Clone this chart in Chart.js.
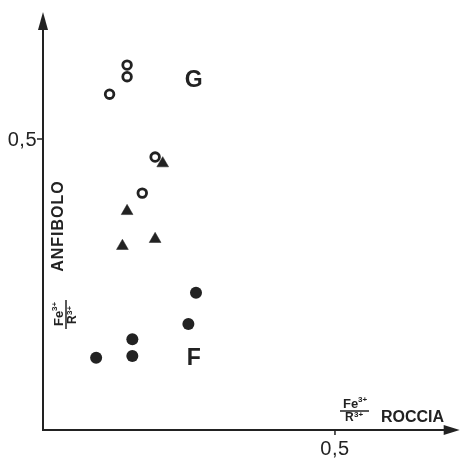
<!DOCTYPE html>
<html>
<head>
<meta charset="utf-8">
<script src="https://cdn.jsdelivr.net/npm/chart.js@4.4.1/dist/chart.umd.min.js"></script>
<style>
html,body{margin:0;padding:0;background:#fff;}
#wrap{width:467px;height:458px;position:relative;}
</style>
</head>
<body>
<div id="wrap"><canvas id="c" width="467" height="458"></canvas></div>
<script>
// Data (x = Fe3+/R3+ roccia, y = Fe3+/R3+ anfibolo)
const openX = [0.114, 0.144, 0.144, 0.192, 0.170];
const openY = [0.577, 0.627, 0.607, 0.469, 0.407];
const triX = [0.205, 0.144, 0.136, 0.192];
const triY = [0.458, 0.376, 0.316, 0.328];
const fillX = [0.091, 0.153, 0.153, 0.249, 0.262];
const fillY = [0.124, 0.156, 0.127, 0.182, 0.236];
const xTickValues = [0.5];
const xTickLabels = ['0,5'];
const yTickValues = [0.5];
const yTickLabels = ['0,5'];
const groupLabels = ['G', 'F'];
const groupPos = [[0.258, 0.602], [0.258, 0.125]];

const ink = '#222';
function pts(xs, ys){ return xs.map((x,i)=>({x:x, y:ys[i]})); }

const drawAxes = {
  id: 'drawAxes',
  beforeDatasetsDraw(chart){
    const ctx = chart.ctx;
    const xs = chart.scales.x, ys = chart.scales.y;
    const x0 = xs.getPixelForValue(0), y0 = ys.getPixelForValue(0);
    const top = chart.chartArea.top, right = chart.chartArea.right;
    ctx.save();
    ctx.strokeStyle = ink; ctx.fillStyle = ink; ctx.lineWidth = 2;
    ctx.beginPath();
    ctx.moveTo(x0, y0 + 1); ctx.lineTo(x0, top + 14);
    ctx.moveTo(x0 - 1, y0); ctx.lineTo(right - 12, y0);
    ctx.stroke();
    // arrowheads
    ctx.beginPath();
    ctx.moveTo(x0, top); ctx.lineTo(x0 - 5, top + 18); ctx.lineTo(x0 + 5, top + 18); ctx.closePath(); ctx.fill();
    ctx.beginPath();
    ctx.moveTo(right, y0); ctx.lineTo(right - 16, y0 - 5); ctx.lineTo(right - 16, y0 + 5); ctx.closePath(); ctx.fill();
    // ticks
    ctx.lineWidth = 1.5;
    yTickValues.forEach(v=>{
      const p = ys.getPixelForValue(v);
      ctx.beginPath(); ctx.moveTo(x0 - 6, p); ctx.lineTo(x0, p); ctx.stroke();
    });
    xTickValues.forEach(v=>{
      const p = xs.getPixelForValue(v);
      ctx.beginPath(); ctx.moveTo(p, y0); ctx.lineTo(p, y0 + 5); ctx.stroke();
    });
    ctx.restore();
  },
  afterDatasetsDraw(chart){
    const ctx = chart.ctx;
    const xs = chart.scales.x, ys = chart.scales.y;
    const x0 = xs.getPixelForValue(0), y0 = ys.getPixelForValue(0);
    ctx.save();
    ctx.fillStyle = ink; ctx.strokeStyle = ink;
    // tick labels
    ctx.font = '20px "Liberation Sans", Arial, sans-serif';
    ctx.letterSpacing = '0.5px';
    ctx.textBaseline = 'middle'; ctx.textAlign = 'right';
    yTickValues.forEach((v,i)=>{ ctx.fillText(yTickLabels[i], x0 - 6, ys.getPixelForValue(v) + 1); });
    ctx.textAlign = 'center'; ctx.textBaseline = 'alphabetic';
    xTickValues.forEach((v,i)=>{ ctx.fillText(xTickLabels[i], xs.getPixelForValue(v), y0 + 25); });
    ctx.letterSpacing = '0px';
    // group labels
    ctx.font = 'bold 23px "Liberation Sans", Arial, sans-serif';
    ctx.textAlign = 'center'; ctx.textBaseline = 'middle';
    groupLabels.forEach((g,i)=>{
      ctx.fillText(g, xs.getPixelForValue(groupPos[i][0]), ys.getPixelForValue(groupPos[i][1]) + 1);
    });
    // x axis title: fraction + ROCCIA
    function frac(cx, cy){
      ctx.textAlign = 'left'; ctx.textBaseline = 'alphabetic';
      ctx.font = 'bold 13px "Liberation Sans", Arial, sans-serif';
      ctx.fillText('Fe', cx - 11, cy - 3);
      ctx.font = 'bold 8px "Liberation Sans", Arial, sans-serif';
      ctx.fillText('3+', cx + 4, cy - 9);
      ctx.lineWidth = 1.5;
      ctx.beginPath(); ctx.moveTo(cx - 14, cy); ctx.lineTo(cx + 15, cy); ctx.stroke();
      ctx.font = 'bold 12px "Liberation Sans", Arial, sans-serif';
      ctx.fillText('R', cx - 9, cy + 10);
      ctx.font = 'bold 8px "Liberation Sans", Arial, sans-serif';
      ctx.fillText('3+', cx + 0, cy + 6);
    }
    frac(354, 411);
    ctx.font = 'bold 16px "Liberation Sans", Arial, sans-serif';
    ctx.textAlign = 'left'; ctx.textBaseline = 'alphabetic';
    ctx.fillText('ROCCIA', 381, 422);
    // y axis title (rotated)
    ctx.save();
    ctx.translate(66, 315);
    ctx.rotate(-Math.PI/2);
    frac(0, 0);
    ctx.restore();
    ctx.save();
    ctx.translate(63, 226);
    ctx.rotate(-Math.PI/2);
    ctx.font = 'bold 16px "Liberation Sans", Arial, sans-serif';
    ctx.letterSpacing = '1px';
    ctx.textAlign = 'center'; ctx.textBaseline = 'alphabetic';
    ctx.fillText('ANFIBOLO', 0, 0);
    ctx.restore();
    ctx.restore();
  }
};

new Chart(document.getElementById('c'), {
  type: 'scatter',
  data: {
    datasets: [
      { label: 'G', data: pts(openX, openY), pointStyle: 'circle', pointRadius: 4.3, borderWidth: 2.8,
        borderColor: ink, backgroundColor: '#fff', pointBackgroundColor: '#fff', pointBorderColor: ink, pointHoverRadius: 4.3 },
      { label: 'T', data: pts(triX, triY), pointStyle: 'triangle', pointRadius: 6.8, borderWidth: 0.5,
        borderColor: ink, backgroundColor: ink, pointBackgroundColor: ink, pointBorderColor: ink, pointHoverRadius: 6.8 },
      { label: 'F', data: pts(fillX, fillY), pointStyle: 'circle', pointRadius: 6, borderWidth: 0,
        borderColor: ink, backgroundColor: ink, pointBackgroundColor: ink, pointHoverRadius: 6 }
    ]
  },
  options: {
    responsive: false,
    animation: false,
    layout: { padding: { left: 43, top: 12, right: 3, bottom: 28 } },
    plugins: { legend: { display: false }, tooltip: { enabled: false } },
    scales: {
      x: { type: 'linear', min: 0, max: 0.7136, display: false },
      y: { type: 'linear', min: 0, max: 0.7182, display: false }
    },
    clip: false
  },
  plugins: [drawAxes]
});
</script>
</body>
</html>
